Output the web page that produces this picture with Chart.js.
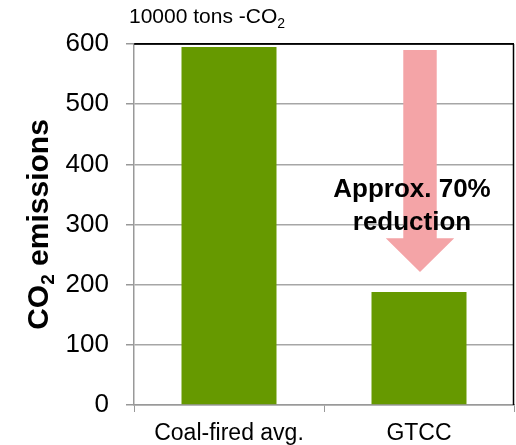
<!DOCTYPE html>
<html>
<head>
<meta charset="utf-8">
<script src="https://cdn.jsdelivr.net/npm/chart.js@4/dist/chart.umd.min.js"></script>
<style>
  html, body { margin: 0; padding: 0; background: #fff; }
  #wrap { width: 516px; height: 445px; position: relative; }
</style>
</head>
<body>
<div id="wrap"><canvas id="c"></canvas></div>
<script>
// ---- data ----
const categories = ['Coal-fired avg.', 'GTCC'];
const emissions = [595, 188];
const yTicks = [0, 100, 200, 300, 400, 500, 600];
const unitLabel = ['10000 tons -CO', '2'];
const yTitle = ['CO', '2', ' emissions'];
const noteLines = ['Approx. 70%', 'reduction'];
// arrow: shaft top value, head base value, tip value (in y units), at category index
const arrowValues = [590, 277, 221];
const arrowCategory = 1;

const FAM = '"Liberation Sans", Arial, sans-serif';

const overlay = {
  id: 'overlay',
  afterDatasetsDraw(chart) {
    const ctx = chart.ctx;
    const xs = chart.scales.x, ys = chart.scales.y;
    const area = chart.chartArea;
    ctx.save();
    // right border
    ctx.strokeStyle = '#000';
    ctx.lineWidth = 1.5;
    ctx.beginPath();
    ctx.moveTo(area.right - 0.5, area.top);
    ctx.lineTo(area.right - 0.5, area.bottom);
    ctx.stroke();
    // top border
    ctx.beginPath();
    ctx.moveTo(area.left, area.top);
    ctx.lineTo(area.right, area.top);
    ctx.stroke();

    // arrow
    const cx = xs.getPixelForValue(arrowCategory) + 1;
    const catW = (area.right - area.left) / categories.length;
    const shaftHalf = catW * 0.088;
    const headHalf = catW * 0.18;
    const yTop = ys.getPixelForValue(arrowValues[0]);
    const yBase = ys.getPixelForValue(arrowValues[1]);
    const yTip = ys.getPixelForValue(arrowValues[2]);
    ctx.fillStyle = '#F4A4A7';
    ctx.beginPath();
    ctx.moveTo(cx - shaftHalf, yTop);
    ctx.lineTo(cx + shaftHalf, yTop);
    ctx.lineTo(cx + shaftHalf, yBase);
    ctx.lineTo(cx + headHalf, yBase);
    ctx.lineTo(cx, yTip);
    ctx.lineTo(cx - headHalf, yBase);
    ctx.lineTo(cx - shaftHalf, yBase);
    ctx.closePath();
    ctx.fill();

    // note text
    ctx.fillStyle = '#000';
    ctx.font = 'bold 26px ' + FAM;
    ctx.textAlign = 'center';
    ctx.textBaseline = 'alphabetic';
    const tx = cx - 8;
    ctx.fillText(noteLines[0], tx, ys.getPixelForValue(346));
    ctx.fillText(noteLines[1], tx, ys.getPixelForValue(291));

    // unit label with subscript
    ctx.textAlign = 'left';
    ctx.font = '21px ' + FAM;
    let x0 = 129;
    ctx.fillText(unitLabel[0], x0, 23);
    x0 += ctx.measureText(unitLabel[0]).width;
    ctx.font = '14px ' + FAM;
    ctx.fillText(unitLabel[1], x0, 28);

    // y title rotated with subscript
    ctx.save();
    ctx.translate(48, (area.top + area.bottom) / 2);
    ctx.rotate(-Math.PI / 2);
    const big = 'bold 30px ' + FAM, small = 'bold 19px ' + FAM;
    ctx.font = big; const w1 = ctx.measureText(yTitle[0]).width;
    ctx.font = small; const w2 = ctx.measureText(yTitle[1]).width;
    ctx.font = big; const w3 = ctx.measureText(yTitle[2]).width;
    let sx = -(w1 + w2 + w3) / 2;
    ctx.font = big; ctx.fillText(yTitle[0], sx, 0); sx += w1;
    ctx.font = small; ctx.fillText(yTitle[1], sx, 6); sx += w2;
    ctx.font = big; ctx.fillText(yTitle[2], sx, 0);
    ctx.restore();

    ctx.restore();
  }
};

new Chart(document.getElementById('c'), {
  type: 'bar',
  data: {
    labels: categories,
    datasets: [{
      data: emissions,
      backgroundColor: '#669900',
      borderWidth: 0,
      categoryPercentage: 1.0,
      barPercentage: 0.5
    }]
  },
  options: {
    responsive: true,
    maintainAspectRatio: false,
    animation: false,
    layout: { padding: { top: 44, right: 2, left: 0, bottom: 0 } },
    plugins: { legend: { display: false }, tooltip: { enabled: false } },
    scales: {
      x: {
        grid: { drawOnChartArea: false, drawTicks: true, tickLength: 7, color: '#999', offset: true },
        border: { color: '#999', width: 1.5 },
        ticks: { font: { size: 23, family: FAM }, color: '#000', padding: 8, maxRotation: 0 },
        afterFit(s) { s.height = 40; }
      },
      y: {
        min: 0, max: 600,
        afterBuildTicks(s) { s.ticks = yTicks.map(v => ({ value: v })); },
        ticks: { font: { size: 26, family: FAM }, color: '#000', padding: 17 },
        grid: {
          color: c => (c.tick && c.tick.value === 600) ? '#000' : '#A6A6A6',
          lineWidth: 1.5,
          tickLength: 8,
          tickColor: '#999'
        },
        border: { color: '#999', width: 1.5 },
        afterFit(s) { s.width = 134; }
      }
    }
  },
  plugins: [overlay]
});
</script>
</body>
</html>
